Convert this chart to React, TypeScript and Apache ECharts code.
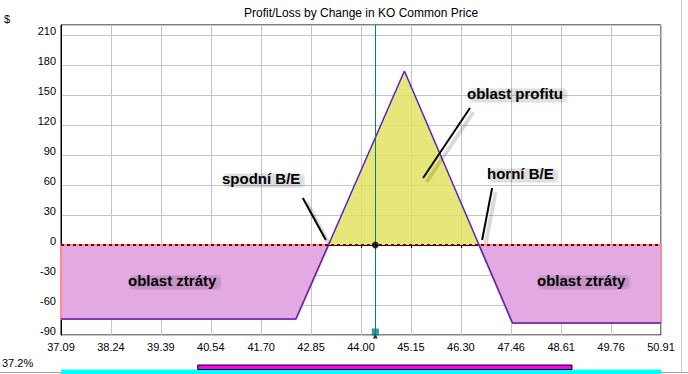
import React, { useEffect, useRef } from 'react';
import * as echarts from 'echarts';

// ---- data ----
const xTicks = [37.09, 38.24, 39.39, 40.54, 41.7, 42.85, 44.0, 45.15, 46.3, 47.46, 48.61, 49.76, 50.91];
const yMin = -90;
const yMax = 220;
const yStep = 30;
const pnlPrices = [37.09, 42.5, 43.25, 45.0, 46.72, 47.49, 50.91];
const pnlValues = [-74, -74, 0, 174, 0, -78, -78];
const currentPrice = 44.33;
// strip bars: [start price, end price, row]
const stripBars = [
  [37.09, 50.91, 0],
  [40.24, 48.86, 1],
];
// annotation arrows: [fromPrice, fromValue, toPrice, toValue]
const arrows = [
  [42.66, 47, 43.19, 5],
  [46.51, 137, 45.43, 67],
  [47.02, 57, 46.79, 5],
];
const title = 'Profit/Loss by Change in KO Common Price';
const stripLabel = '37.2%';
const annotations = [
  { text: 'oblast profitu', x: 467, y: 93 },
  { text: 'spodní B/E', x: 222, y: 178 },
  { text: 'horní B/E', x: 487, y: 173 },
  { text: 'oblast ztráty', x: 128, y: 280 },
  { text: 'oblast ztráty', x: 537, y: 280 },
];

const FONT = '"Liberation Sans", Arial, sans-serif';

export default function App() {
  const ref = useRef<HTMLDivElement>(null);
  useEffect(() => {
    if (!ref.current) return;
    const chart = echarts.init(ref.current, null, { renderer: 'svg' });
    const curve = pnlPrices.map((p, i) => [p, pnlValues[i]]);
    const x0 = pnlPrices[0];
    const xN = pnlPrices[pnlPrices.length - 1];
    const lossLeft = [[curve[2][0], 0], [x0, 0], ...curve.slice(0, 3)];
    const profit = curve.slice(2, 5);
    const lossRight = [...curve.slice(4), [xN, 0], [curve[4][0], 0]];

    const annoFont = `bold 15px ${FONT}`;
    const ctx = document.createElement('canvas').getContext('2d');
    if (ctx) ctx.font = annoFont;
    const shadowRects: any[] = [];
    annotations.forEach((a) => {
      const w = ctx ? ctx.measureText(a.text).width : a.text.length * 8;
      [[2, 0.06, 6], [4, 0.07, 4]].forEach(([pad, op, r]) => {
        shadowRects.push({
          type: 'rect',
          z: 9,
          silent: true,
          shape: { x: a.x + 3 - pad / 2, y: a.y - 3 - pad / 2, width: w + pad, height: 11 + pad, r },
          style: { fill: `rgba(0,0,0,${op})` },
        });
      });
    });
    const mainTexts = annotations.map((a) => ({
      type: 'text',
      x: a.x,
      y: a.y,
      z: 10,
      style: { text: a.text, font: annoFont, fill: '#000', verticalAlign: 'middle' },
    }));

    chart.setOption({
      animation: false,
      backgroundColor: '#fff',
      grid: [
        { left: 61, right: 27, top: 25, height: 310, show: true, borderColor: '#000', borderWidth: 1, backgroundColor: 'transparent' },
        { left: 61, right: 27, top: 365, height: 9 },
      ],
      xAxis: [
        {
          type: 'value',
          min: x0,
          max: xN,
          axisLine: { show: true, lineStyle: { color: '#000' } },
          axisTick: { show: true, length: 3, customValues: xTicks, lineStyle: { color: '#000' } },
          axisLabel: {
            customValues: xTicks,
            formatter: (v: number) => v.toFixed(2),
            color: '#000',
            fontFamily: FONT,
            fontSize: 11,
            margin: 6,
          },
          splitLine: { show: true, lineStyle: { color: '#C4C4C4', width: 1 } },
        },
        { type: 'value', gridIndex: 1, min: x0, max: xN, show: false },
      ],
      yAxis: [
        {
          type: 'value',
          min: yMin,
          max: yMax,
          interval: yStep,
          axisLine: { show: true, lineStyle: { color: '#000' } },
          axisTick: { show: false },
          axisLabel: {
            formatter: (v: number) => (v > 210 ? '' : String(v)),
            color: '#000',
            fontFamily: FONT,
            fontSize: 11,
            margin: 5,
            verticalAlign: 'bottom',
            padding: [0, 0, -1, 0],
          },
          splitLine: { show: true, lineStyle: { color: '#C4C4C4', width: 1 } },
        },
        { type: 'value', gridIndex: 1, min: 0, max: 2, show: false },
      ],
      series: [
        {
          type: 'scatter',
          data: [],
          markLine: {
            silent: true,
            symbol: 'none',
            label: { show: false },
            lineStyle: { color: '#008080', width: 1, type: 'solid' },
            data: [{ xAxis: currentPrice }],
          },
        },
        {
          type: 'line',
          data: lossLeft,
          showSymbol: false,
          lineStyle: { color: '#FF8C8C', width: 2 },
          areaStyle: { color: '#E2A9E2', opacity: 1 },
          z: 2,
        },
        {
          type: 'line',
          data: lossRight,
          showSymbol: false,
          lineStyle: { color: '#FF8C8C', width: 2 },
          areaStyle: { color: '#E2A9E2', opacity: 1 },
          z: 2,
        },
        {
          type: 'line',
          data: profit,
          showSymbol: false,
          lineStyle: { width: 0, opacity: 0 },
          areaStyle: { color: 'rgb(226,226,100)', opacity: 0.85 },
          z: 2,
        },
        {
          type: 'line',
          data: curve,
          showSymbol: false,
          lineStyle: { color: '#5420C8', width: 1.5 },
          z: 3,
          markLine: {
            silent: true,
            symbol: 'none',
            label: { show: false },
            lineStyle: { color: '#7A0000', width: 2, type: [3, 3] },
            data: [{ yAxis: 0 }],
          },
        },
        {
          type: 'scatter',
          data: [],
          z: 4,
          markLine: {
            silent: true,
            symbol: ['none', 'none'],
            label: { show: false },
            lineStyle: { color: 'rgba(0,0,0,0.15)', width: 4, type: 'solid' },
            data: arrows.map((a) => [
              { coord: [a[0] + 0.08, a[1] - 4] },
              { coord: [a[2] + 0.08, a[3] - 4] },
            ]),
          },
        },
        {
          type: 'scatter',
          data: [],
          z: 4,
          markLine: {
            silent: true,
            symbol: ['none', 'arrow'],
            symbolSize: [0, 10],
            label: { show: false },
            lineStyle: { color: '#000', width: 2, type: 'solid' },
            data: arrows.map((a) => [{ coord: [a[0], a[1]] }, { coord: [a[2], a[3]] }]),
          },
        },
        {
          type: 'scatter',
          data: [[currentPrice, 0]],
          symbol: 'circle',
          symbolSize: 7,
          itemStyle: { color: '#000' },
          z: 5,
          clip: false,
        },
        {
          type: 'scatter',
          data: [[currentPrice, yMin]],
          symbol: 'triangle',
          symbolSize: 5,
          symbolOffset: [0, 1],
          itemStyle: { color: '#000' },
          z: 5,
          clip: false,
        },
        {
          type: 'scatter',
          data: [[currentPrice, yMin]],
          symbol: 'rect',
          symbolSize: 7,
          symbolOffset: [0, -3],
          itemStyle: { color: '#008080' },
          z: 6,
          clip: false,
        },
        {
          type: 'custom',
          xAxisIndex: 1,
          yAxisIndex: 1,
          data: stripBars,
          clip: false,
          renderItem: (params: any, api: any) => {
            const row = api.value(2);
            const p0 = api.coord([api.value(0), row + 1]);
            const p1 = api.coord([api.value(1), row]);
            const isTop = row === 1;
            return {
              type: 'rect',
              shape: { x: p0[0], y: p0[1], width: p1[0] - p0[0], height: p1[1] - p0[1] },
              style: isTop
                ? { fill: '#FF00FF', stroke: '#000', lineWidth: 1 }
                : { fill: '#00FFFF' },
            };
          },
        },
      ],
      graphic: [
        { type: 'line', shape: { x1: 0, y1: 372.5, x2: 688, y2: 372.5 }, style: { stroke: '#A0A0A0', lineWidth: 1 }, z: -1 },
        { type: 'line', shape: { x1: 681.5, y1: 0, x2: 681.5, y2: 373 }, style: { stroke: '#C8C8C8', lineWidth: 1 }, z: -1 },
        { type: 'text', x: 361, y: 13, style: { text: title, font: `12px ${FONT}`, fill: '#000', align: 'center', verticalAlign: 'middle' } },
        { type: 'text', x: 4, y: 19, style: { text: '$', font: `11px ${FONT}`, fill: '#000', verticalAlign: 'middle' } },
        { type: 'text', x: 2, y: 363, style: { text: stripLabel, font: `11px ${FONT}`, fill: '#000', verticalAlign: 'middle' } },
        ...shadowRects,
        ...mainTexts,
      ],
    });
    return () => chart.dispose();
  }, []);
  return (
    <div
      ref={ref}
      style={{ position: 'fixed', left: 0, top: 0, width: 688, height: 374, background: '#fff' }}
    />
  );
}
